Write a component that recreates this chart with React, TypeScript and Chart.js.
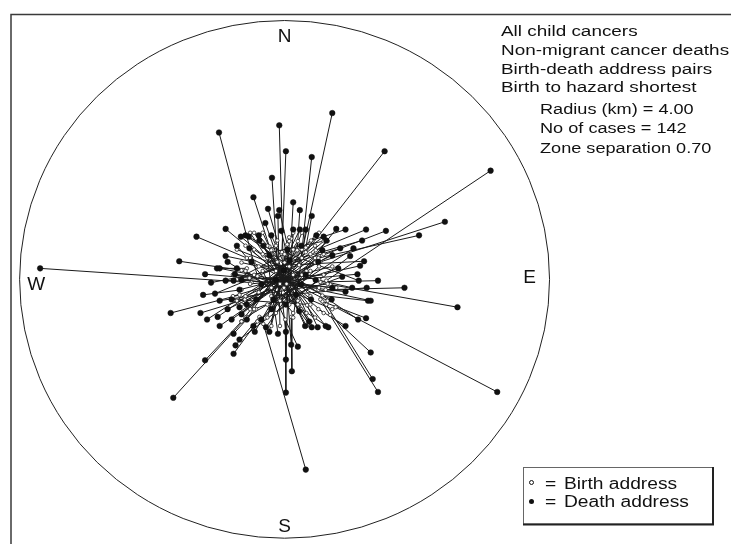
import React, { useEffect, useRef } from "react";
import { Chart, registerables } from "chart.js";
Chart.register(...registerables);

// ---- Data (km, relative to the hazard at the centre) ----
const RADIUS_KM = 4.0;
const titleLines = ["All child cancers", "Non-migrant cancer deaths", "Birth-death address pairs", "Birth to hazard shortest"];
const statLines = ["Radius (km) = 4.00", "No of cases = 142", "Zone separation 0.70"];
const compassLabels = ["N", "E", "S", "W"];
const legendLabels = ["Birth address", "Death address"];

const birthX = [
  0.22, -0.01, -0.41, -0.04, 0.25, 0.32, 0.63, -0.11, -0.23, -0.11,
  0.04, 0.10, 0.19, 0.32, 0.54, 0.51, 0.57, 0.47, 0.40, -0.50,
  -0.57, -0.32, -0.20, -0.65, -0.50, -0.53, -0.57, -0.47, 0.54, 0.62,
  0.69, 0.57, 0.51, -0.68, -0.65, -0.60, 0.57, 0.51, 0.25, 0.34,
  -0.43, -0.38, -0.65, -0.41, 0.69, 0.10, -0.57, 0.63, 0.01, 0.54,
  0.77, -0.32, 0.07, -0.20, 0.13, 0.39, 0.03, 0.26, 0.33, -0.39,
  -0.13, -0.07, -0.46, -0.26, -0.33, 0.00, -0.59, -0.13, -0.39, -0.07,
  0.52, 0.20, 0.46, 0.26, -0.52, 0.59, 0.13, -0.26, -0.65, -0.20,
  0.39, 0.65, 0.33, 0.46, 0.07, 0.26, 0.59, 0.20, 0.39, -0.46,
  0.13, -0.39, -0.20, 0.26, 0.07, -0.13, 0.52, -0.33, 0.00, 0.07,
  -0.07, 0.20, 0.72, 0.46, -0.26, -0.59, -0.72, -0.46, -0.52, 0.39,
  0.52, 0.46, -0.52, 0.65, -0.65, 0.59, -0.59, 0.26, -0.33, 0.13,
  0.78, -0.78, 0.13, 0.39, -0.59, 0.52, -0.65, -0.72, 0.72, -0.65,
  0.59, 0.72, -0.72, 0.33, -0.46, -0.20, -0.52, 0.39, 0.46, -0.78,
  -0.26, 0.65,
];
const birthY = [
  0.22, -0.13, 0.05, 0.42, 0.33, 0.42, -0.02, 0.27, 0.51, 0.60,
  0.54, 0.63, 0.45, 0.49, 0.27, 0.33, 0.37, 0.45, 0.60, 0.45,
  0.33, 0.37, 0.45, 0.14, -0.05, 0.02, 0.17, 0.27, -0.04, -0.16,
  -0.08, -0.25, -0.16, -0.24, -0.16, -0.31, -0.34, -0.46, -0.46, -0.40,
  -0.46, -0.58, -0.65, -0.65, -0.55, -0.58, -0.58, -0.39, -0.62, -0.31,
  -0.43, -0.69, -0.39, -0.13, -0.59, -0.26, -0.07, 0.07, -0.52, -0.20,
  0.13, -0.33, 0.07, -0.39, 0.39, 0.26, -0.26, -0.52, 0.20, -0.07,
  -0.13, -0.39, 0.26, -0.07, -0.07, 0.07, 0.46, 0.52, 0.26, -0.26,
  0.39, -0.07, 0.13, 0.52, 0.20, 0.33, 0.39, 0.59, 0.13, 0.46,
  0.07, 0.59, 0.39, 0.46, 0.65, 0.52, 0.00, 0.13, 0.39, 0.59,
  -0.72, -0.33, 0.20, 0.33, 0.33, 0.13, 0.00, -0.46, 0.33, -0.39,
  0.20, -0.59, -0.46, -0.33, -0.39, 0.59, 0.52, 0.72, 0.72, -0.52,
  -0.13, 0.07, 0.72, -0.72, -0.59, 0.72, -0.65, 0.46, 0.39, -0.52,
  -0.52, -0.46, -0.33, -0.72, 0.72, -0.72, 0.72, -0.65, 0.65, -0.26,
  -0.59, 0.59,
];
const deathX = [
  0.72, -0.08, -0.99, 0.02, 0.41, 1.51, 3.11, -0.19, -0.47, -0.25,
  -0.08, 0.13, 0.23, 0.41, 2.42, 2.03, 1.53, 1.23, 0.92, -0.89,
  -1.33, -0.66, -0.54, -1.59, -3.69, -1.20, -1.02, -0.89, 1.41, 1.81,
  2.61, 1.26, 1.30, -1.72, -1.23, -1.27, 1.23, 0.92, 0.41, 0.50,
  -0.77, -0.74, -1.20, -0.77, 1.30, 0.11, -1.68, 1.33, 0.02, 1.41,
  3.21, 0.32, 0.13, 0.23, 0.32, -0.39, -0.29, -0.59, -0.20, 0.48,
  0.59, 0.78, 0.84, 1.04, 0.63, 1.17, 0.72, 0.99, 1.20, 1.14,
  -0.98, -0.86, -1.11, -0.75, 1.10, -0.89, -0.77, 1.12, 1.02, 1.24,
  -1.05, -0.98, -0.86, -0.68, -1.01, -1.17, -0.80, -0.57, -0.47, 1.11,
  -0.98, 0.62, 0.31, -0.45, -0.23, 0.02, -0.68, 0.20, 0.10, 0.02,
  -0.10, -0.05, -0.68, -0.28, -0.10, 0.66, 0.92, 0.87, 0.71, -0.80,
  -0.35, -0.32, 0.25, -0.50, 0.51, -0.43, 0.40, -0.20, 0.22, -0.72,
  -0.65, 0.72, 0.02, -0.13, 0.25, -0.35, 0.07, 0.47, -0.57, 0.57,
  -0.53, -0.72, 0.81, -0.23, 0.17, -0.01, 0.37, -0.38, -0.17, 0.32,
  0.04, -0.65,
];
const deathY = [
  2.57, 2.38, 2.27, 1.98, 1.89, 1.98, 1.68, 1.57, 1.27, 1.09,
  1.07, 1.19, 1.07, 0.98, 0.89, 0.68, 0.75, 0.77, 0.77, 0.78,
  0.66, 0.66, 0.66, 0.28, 0.17, 0.08, 0.17, 0.36, -0.02, -0.13,
  -0.43, -0.33, -0.33, -0.52, -0.24, -0.52, -0.60, -0.72, -0.74, -0.74,
  -0.84, -1.02, -1.25, -1.15, -1.13, -1.42, -1.83, -1.54, -1.75, -1.74,
  -1.74, -2.94, 0.77, 0.77, 0.77, 0.68, 0.87, 0.68, 0.68, 0.68,
  0.66, 0.78, 0.48, 0.48, 0.60, 0.60, 0.37, 0.36, 0.28, 0.21,
  0.17, 0.27, -0.05, 0.08, 0.08, -0.02, -0.02, -0.02, -0.13, -0.13,
  -0.22, -0.33, -0.46, -0.43, -0.58, -0.62, -0.62, -0.62, -0.72, -0.62,
  -0.72, -0.72, -0.72, -0.81, -0.81, -0.81, -0.93, -1.04, -1.01, -1.24,
  0.98, 0.75, -0.16, -0.74, -0.84, -0.74, -0.19, 0.04, -0.31, -0.31,
  -0.62, 0.52, 0.52, 0.27, 0.27, -0.31, -0.31, -0.46, -0.49, 0.52,
  -0.01, -0.13, -0.39, -0.01, -0.08, -0.08, 0.30, -0.01, -0.39, 0.45,
  0.48, 0.17, 0.17, 0.37, -0.24, 0.14, -0.65, 0.60, -0.31, 0.07,
  0.46, -0.54,
];

// ---- Layout (pixels) ----
const W = 731;
const H = 544;
const CIRCLE_LEFT = 15;
const CIRCLE_RIGHT = 552;
const CIRCLE_TOP = 16;
const CIRCLE_BOTTOM = 543;
const FONT = "'Liberation Sans', Arial, Helvetica, sans-serif";

const pxPerKmX = (CIRCLE_RIGHT - CIRCLE_LEFT) / (2 * RADIUS_KM);
const pxPerKmY = (CIRCLE_BOTTOM - CIRCLE_TOP) / (2 * RADIUS_KM);
const X_MIN = -RADIUS_KM - CIRCLE_LEFT / pxPerKmX;
const X_MAX = X_MIN + W / pxPerKmX;
const Y_MAX = RADIUS_KM + CIRCLE_TOP / pxPerKmY;
const Y_MIN = Y_MAX - H / pxPerKmY;

function stretchText(ctx: CanvasRenderingContext2D, text: string, x: number, y: number, sx: number, align: "left" | "center" = "left") {
  ctx.save();
  ctx.translate(x, y);
  ctx.scale(sx, 1);
  ctx.textAlign = align;
  ctx.fillText(text, 0, 0);
  ctx.restore();
}

const decor = {
  id: "decor",
  beforeDraw(chart: any) {
    const ctx = chart.ctx as CanvasRenderingContext2D;
    ctx.save();
    ctx.fillStyle = "#ffffff";
    ctx.fillRect(0, 0, chart.width, chart.height);
    ctx.restore();
  },
  beforeDatasetsDraw(chart: any) {
    const ctx = chart.ctx as CanvasRenderingContext2D;
    const xs = chart.scales.x;
    const ys = chart.scales.y;
    ctx.save();
    // outer frame
    ctx.strokeStyle = "#3a3a3a";
    ctx.lineWidth = 1.5;
    ctx.beginPath();
    ctx.moveTo(11, H);
    ctx.lineTo(11, 14.5);
    ctx.lineTo(W, 14.5);
    ctx.stroke();
    // radius circle
    const cx = xs.getPixelForValue(0);
    const cy = ys.getPixelForValue(0);
    const rx = xs.getPixelForValue(RADIUS_KM) - cx;
    const ry = cy - ys.getPixelForValue(RADIUS_KM);
    ctx.strokeStyle = "#222";
    ctx.lineWidth = 1;
    ctx.beginPath();
    ctx.ellipse(cx, cy, rx, ry, 0, 0, Math.PI * 2);
    ctx.stroke();
    // compass labels
    ctx.fillStyle = "#111";
    ctx.font = `19px ${FONT}`;
    ctx.textBaseline = "alphabetic";
    const pos: [number, number][] = [
      [0, 3.67],
      [3.70, -0.05],
      [0, -3.90],
      [-3.75, -0.16],
    ];
    compassLabels.forEach((t, i) => {
      stretchText(ctx, t, xs.getPixelForValue(pos[i][0]), ys.getPixelForValue(pos[i][1]), 1.0, "center");
    });
    ctx.restore();
  },
  afterDatasetsDraw(chart: any) {
    const ctx = chart.ctx as CanvasRenderingContext2D;
    ctx.save();
    ctx.fillStyle = "#111";
    ctx.textBaseline = "alphabetic";
    ctx.font = `15.5px ${FONT}`;
    const titleBase = [36, 55, 73.5, 92];
    titleLines.forEach((t, i) => stretchText(ctx, t, 501, titleBase[i], 1.22));
    const statBase = [113.5, 133, 152.5];
    statLines.forEach((t, i) => stretchText(ctx, t, 540, statBase[i], 1.17));
    // legend box
    ctx.fillStyle = "#ffffff";
    ctx.fillRect(523.5, 467, 189.5, 57);
    ctx.strokeStyle = "#666";
    ctx.lineWidth = 1;
    ctx.strokeRect(523.5, 467.5, 189.5, 56.5);
    ctx.strokeStyle = "#222";
    ctx.lineWidth = 2;
    ctx.beginPath();
    ctx.moveTo(713, 467);
    ctx.lineTo(713, 524.5);
    ctx.lineTo(523, 524.5);
    ctx.stroke();
    // legend markers
    ctx.lineWidth = 1;
    ctx.strokeStyle = "#111";
    ctx.fillStyle = "#fff";
    ctx.beginPath();
    ctx.arc(531.5, 482.5, 2, 0, Math.PI * 2);
    ctx.fill();
    ctx.stroke();
    ctx.fillStyle = "#111";
    ctx.beginPath();
    ctx.arc(531.5, 501.5, 2.5, 0, Math.PI * 2);
    ctx.fill();
    ctx.font = `16px ${FONT}`;
    stretchText(ctx, "=", 545, 488.5, 1.2);
    stretchText(ctx, "=", 545, 507, 1.2);
    stretchText(ctx, legendLabels[0], 564, 488.5, 1.2);
    stretchText(ctx, legendLabels[1], 564, 507, 1.2);
    ctx.restore();
  },
};

export default function App() {
  const ref = useRef<HTMLCanvasElement>(null);
  useEffect(() => {
    document.body.style.margin = "0";
    const deathPts = deathX.map((x, i) => ({ x, y: deathY[i] }));
    const birthPts = birthX.map((x, i) => ({ x, y: birthY[i] }));
    const linePts: any[] = [];
    for (let i = 0; i < birthX.length; i++) {
      linePts.push({ x: birthX[i], y: birthY[i] });
      linePts.push({ x: deathX[i], y: deathY[i] });
      linePts.push({ x: null, y: null });
    }
    const chart = new Chart(ref.current as HTMLCanvasElement, {
      type: "scatter",
      data: {
        datasets: [
          {
            label: "Death address",
            data: deathPts,
            pointRadius: 2.8,
            pointBackgroundColor: "#111",
            pointBorderColor: "#111",
            pointBorderWidth: 0.5,
          },
          {
            label: "Birth address",
            data: birthPts,
            pointRadius: 1.8,
            pointBackgroundColor: "#fff",
            pointBorderColor: "#222",
            pointBorderWidth: 0.8,
          },
          {
            label: "pairs",
            data: linePts,
            showLine: true,
            spanGaps: false,
            borderColor: "#1a1a1a",
            borderWidth: 1,
            pointRadius: 0,
            pointHoverRadius: 0,
          },
        ],
      } as any,
      options: {
        animation: false,
        responsive: false,
        events: [],
        layout: { padding: 0 },
        plugins: { legend: { display: false }, tooltip: { enabled: false } },
        scales: {
          x: { type: "linear", min: X_MIN, max: X_MAX, display: false },
          y: { type: "linear", min: Y_MIN, max: Y_MAX, display: false },
        },
      } as any,
      plugins: [decor],
    });
    return () => chart.destroy();
  }, []);
  return (
    <div style={{ position: "absolute", left: 0, top: 0, width: W, height: H }}>
      <canvas ref={ref} width={W} height={H} style={{ display: "block" }} />
    </div>
  );
}
